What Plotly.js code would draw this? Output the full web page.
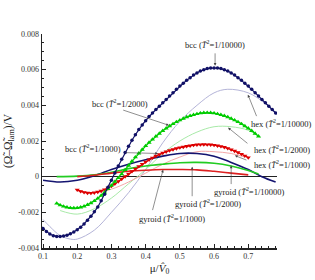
<!DOCTYPE html>
<html><head><meta charset="utf-8">
<script src="https://cdn.plot.ly/plotly-3.0.1.min.js"></script>
<style>html,body{margin:0;padding:0;background:#fff}#c{width:315px;height:280px}</style>
</head><body><div id="c"></div>
<script>
// bcc, T^2 = 1/10000 (navy, dots)
const bcc10000_x = [0.10,0.11,0.12,0.13,0.14,0.15,0.16,0.17,0.18,0.19,0.20,0.21,0.22,0.23,0.24,0.25,0.26,0.27,0.28,0.29,0.30,0.31,0.32,0.33,0.34,0.35,0.36,0.37,0.38,0.39,0.40,0.41,0.42,0.43,0.44,0.45,0.46,0.47,0.48,0.49,0.50,0.51,0.52,0.53,0.54,0.55,0.56,0.57,0.58,0.59,0.60,0.61,0.62,0.63,0.64,0.65,0.66,0.67,0.68,0.69,0.70,0.71,0.72,0.73,0.74,0.75,0.76,0.77,0.78];
const bcc10000_y = [-0.0029,-0.00308,-0.00322,-0.00331,-0.00335,-0.00336,-0.00333,-0.00328,-0.0032,-0.0031,-0.00298,-0.00283,-0.00265,-0.00245,-0.00222,-0.00197,-0.0017,-0.00135,-0.00098,-0.0006,-0.0002,0.0002,0.0006,0.00098,0.00135,0.00171,0.00204,0.00235,0.00264,0.0029,0.00314,0.00337,0.00357,0.00376,0.00395,0.00414,0.00433,0.00452,0.00471,0.0049,0.00508,0.00524,0.0054,0.00555,0.0057,0.00582,0.00592,0.006,0.00606,0.00609,0.0061,0.00609,0.00606,0.006,0.00592,0.00582,0.0057,0.00555,0.0054,0.00524,0.00508,0.0049,0.00471,0.00452,0.00433,0.00414,0.00395,0.00376,0.00357];
// bcc, T^2 = 1/2000 (green, triangles)
const bcc2000_x = [0.14,0.15,0.16,0.17,0.18,0.19,0.20,0.21,0.22,0.23,0.24,0.25,0.26,0.27,0.28,0.29,0.30,0.31,0.32,0.33,0.34,0.35,0.36,0.37,0.38,0.39,0.40,0.41,0.42,0.43,0.44,0.45,0.46,0.47,0.48,0.49,0.50,0.51,0.52,0.53,0.54,0.55,0.56,0.57,0.58,0.59,0.60,0.61,0.62,0.63,0.64,0.65,0.66,0.67,0.68,0.69,0.70,0.71,0.72,0.73];
const bcc2000_y = [-0.0015,-0.0016,-0.00167,-0.00172,-0.00175,-0.00176,-0.00175,-0.00172,-0.00166,-0.00158,-0.00148,-0.00136,-0.00122,-0.00106,-0.00088,-0.00069,-0.00049,-0.00028,-0.00007,0.00014,0.00038,0.00062,0.00086,0.00109,0.00131,0.00152,0.00172,0.00191,0.00209,0.00226,0.00242,0.00257,0.00271,0.00284,0.00296,0.00307,0.00317,0.00326,0.00334,0.00341,0.00347,0.00352,0.00356,0.00358,0.00359,0.00358,0.00356,0.00352,0.00347,0.00341,0.00334,0.00326,0.00317,0.00307,0.00296,0.00284,0.00271,0.00257,0.00242,0.00226];
// bcc, T^2 = 1/1000 (red, triangles down)
const bcc1000_x = [0.20,0.21,0.22,0.23,0.24,0.25,0.26,0.27,0.28,0.29,0.30,0.31,0.32,0.33,0.34,0.35,0.36,0.37,0.38,0.39,0.40,0.41,0.42,0.43,0.44,0.45,0.46,0.47,0.48,0.49,0.50,0.51,0.52,0.53,0.54,0.55,0.56,0.57,0.58,0.59,0.60,0.61,0.62,0.63,0.64,0.65,0.66,0.67,0.68,0.69,0.70];
const bcc1000_y = [-0.00074,-0.00082,-0.00088,-0.00091,-0.00092,-0.0009,-0.00086,-0.0008,-0.00072,-0.00063,-0.00052,-0.0004,-0.00027,-0.00013,0.00001,0.00015,0.0003,0.00044,0.00058,0.00071,0.00083,0.00095,0.00106,0.00116,0.00125,0.00133,0.0014,0.00147,0.00153,0.00158,0.00163,0.00167,0.00171,0.00174,0.00177,0.00179,0.0018,0.00181,0.0018,0.00179,0.00177,0.00174,0.0017,0.00165,0.00159,0.00152,0.00144,0.00136,0.00127,0.00117,0.00107];
// hex curves (thin)
const hex10000_x = [0.10,0.12,0.15,0.18,0.20,0.25,0.30,0.35,0.40,0.45,0.50,0.55,0.60,0.64,0.70,0.75,0.78];
const hex10000_y = [-0.0024,-0.0028,-0.0033,-0.0035,-0.0035,-0.003,-0.002,-0.0009,0.0004,0.0019,0.0031,0.004,0.0047,0.0049,0.0047,0.0041,0.0036];
const hex2000_x = [0.15,0.20,0.25,0.30,0.35,0.40,0.45,0.50,0.55,0.60,0.65,0.70,0.735];
const hex2000_y = [-0.0019,-0.0021,-0.0018,-0.0012,-0.0004,0.0004,0.0013,0.002,0.0025,0.0028,0.0028,0.0026,0.0022];
const hex1000_x = [0.20,0.25,0.30,0.35,0.40,0.45,0.50,0.55,0.60,0.65,0.69];
const hex1000_y = [-0.0008,-0.0009,-0.0007,-0.0003,0.0002,0.0007,0.0011,0.0014,0.0014,0.0013,0.0011];
// gyroid curves (thick)
const gyr1000_x = [0.10,0.15,0.20,0.25,0.30,0.35,0.40,0.45,0.50,0.55,0.60,0.65,0.70,0.74,0.78];
const gyr1000_y = [-0.0002,-0.0003,-0.0002,0.00005,0.0004,0.0007,0.00095,0.00115,0.0013,0.0013,0.00115,0.0008,0.0004,0.0,-0.0003];
const gyr2000_x = [0.14,0.20,0.25,0.30,0.35,0.40,0.45,0.50,0.55,0.60,0.65,0.70,0.73];
const gyr2000_y = [0.0,0.00003,0.0001,0.00025,0.00045,0.0006,0.0007,0.00078,0.0008,0.00075,0.0006,0.00035,0.00015];
const gyr10000_x = [0.20,0.25,0.30,0.35,0.40,0.45,0.50,0.55,0.60,0.65,0.70];
const gyr10000_y = [0.0,0.00008,0.0002,0.0003,0.00036,0.0004,0.0004,0.00038,0.0003,0.0002,0.0001];

const xTickVals = [0.1,0.2,0.3,0.4,0.5,0.6,0.7];
const xTickText = ['0.1','0.2','0.3','0.4','0.5','0.6','0.7'];
const yTickVals = [-0.004,-0.002,0,0.002,0.004,0.006,0.008];
const yTickText = ['-0.004','-0.002','0','0.002','0.004','0.006','0.008'];

const T = '<i>T̄</i><sup>2</sup>';
const labels = [
  {t:'bcc ('+T+'=1/10000)', px:0.736, py:0.953, x0:0.603, y0:0.0070, x1:0.603, y1:0.00622},
  {t:'bcc ('+T+'=1/2000)', px:0.332, py:0.677, x0:0.330, y0:0.00376, x1:0.468, y1:0.00288},
  {t:'bcc ('+T+'=1/1000)', px:0.217, py:0.467, x0:0.337, y0:0.00135, x1:0.436, y1:0.0013},
  {t:'hex ('+T+'=1/10000)', px:1.021, py:0.584, x0:0.726, y0:0.00331, x1:0.699, y1:0.0046},
  {t:'hex ('+T+'=1/2000)', px:1.021, py:0.4626, x0:0.702, y0:0.0018, x1:0.641, y1:0.00275},
  {t:'hex ('+T+'=1/1000)', px:1.021, py:0.3925, x0:0.699, y0:0.0009, x1:0.661, y1:0.00118},
  {t:'gyroid ('+T+'=1/10000)', px:0.885, py:0.262, x0:0.65, y0:-0.0005, x1:0.65, y1:0.00062},
  {t:'gyroid ('+T+'=1/2000)', px:0.706, py:0.21, x0:0.536, y0:-0.00118, x1:0.536, y1:0.00056},
  {t:'gyroid ('+T+'=1/1000)', px:0.553, py:0.14, x0:0.419, y0:-0.00196, x1:0.451, y1:0.00039}
];

const serif = 'Liberation Serif, Times New Roman, serif';
const annotations = [];
labels.forEach(l => {
  annotations.push({xref:'paper', yref:'paper', x:l.px, y:l.py, xanchor:'center', yanchor:'middle',
    text:l.t, showarrow:false, font:{family:serif, size:8.5, color:'#1a1a1a'}});
  annotations.push({xref:'x', yref:'y', axref:'x', ayref:'y', x:l.x1, y:l.y1, ax:l.x0, ay:l.y0,
    text:'', showarrow:true, arrowhead:2, arrowsize:0.9, arrowwidth:0.6, arrowcolor:'#444'});
});

const thin = (x,y,c) => ({x, y, type:'scatter', mode:'lines', line:{color:c, width:1, shape:'spline'}, hoverinfo:'skip'});
const thick = (x,y,c) => ({x, y, type:'scatter', mode:'lines', line:{color:c, width:1.6, shape:'spline'}, hoverinfo:'skip'});

const data = [
  thin(hex10000_x, hex10000_y, '#b4b4d8'),
  thin(hex2000_x, hex2000_y, '#a8eaa8'),
  thin(hex1000_x, hex1000_y, '#f4a8a8'),
  thick(gyr1000_x, gyr1000_y, '#141470'),
  thick(gyr2000_x, gyr2000_y, '#22cc22'),
  thick(gyr10000_x, gyr10000_y, '#dd2020'),
  {x:bcc1000_x, y:bcc1000_y, type:'scatter', mode:'lines+markers', line:{color:'#dd0000', width:1.2},
   marker:{symbol:'triangle-down', size:4.5, color:'#dd0000'}},
  {x:bcc2000_x, y:bcc2000_y, type:'scatter', mode:'lines+markers', line:{color:'#00cc00', width:1.2},
   marker:{symbol:'triangle-up', size:4.5, color:'#00cc00'}},
  {x:bcc10000_x, y:bcc10000_y, type:'scatter', mode:'lines+markers', line:{color:'#101066', width:1.2},
   marker:{symbol:'circle', size:3.5, color:'#101066'}}
];

const layout = {
  width:315, height:280,
  margin:{l:42, r:38, t:34, b:32, autoexpand:false},
  paper_bgcolor:'#fff', plot_bgcolor:'#fff',
  showlegend:false,
  font:{family:serif, color:'#222'},
  xaxis:{range:[0.097,0.784], tickmode:'array', tickvals:xTickVals, ticktext:xTickText,
    ticks:'inside', ticklen:4, tickwidth:1, tickcolor:'#222',
    minor:{tickmode:'linear', tick0:0.1, dtick:0.02, ticks:'inside', ticklen:2, tickcolor:'#222', showgrid:false},
    showline:true, linecolor:'#222', linewidth:1.5, showgrid:false, zeroline:false,
    tickfont:{family:serif, size:8, color:'#333'},
    title:{text:'μ/<i>V̂</i><sub>0</sub>', font:{family:serif, size:11, color:'#222'}, standoff:4}},
  yaxis:{range:[-0.004,0.008], tickmode:'array', tickvals:yTickVals, ticktext:yTickText,
    ticks:'inside', ticklen:4, tickwidth:1, tickcolor:'#222',
    minor:{tickmode:'linear', tick0:0, dtick:0.0005, ticks:'inside', ticklen:2, tickcolor:'#222', showgrid:false},
    showline:true, linecolor:'#222', linewidth:1.5, showgrid:false,
    zeroline:true, zerolinecolor:'#222', zerolinewidth:1.5,
    tickfont:{family:serif, size:8, color:'#333'},
    title:{text:'(Ω̃–Ω̃<sub>lam</sub>)/V', font:{family:serif, size:11.5, color:'#222'}, standoff:3}},
  annotations
};

Plotly.newPlot('c', data, layout, {staticPlot:true, displayModeBar:false});
</script></body></html>
